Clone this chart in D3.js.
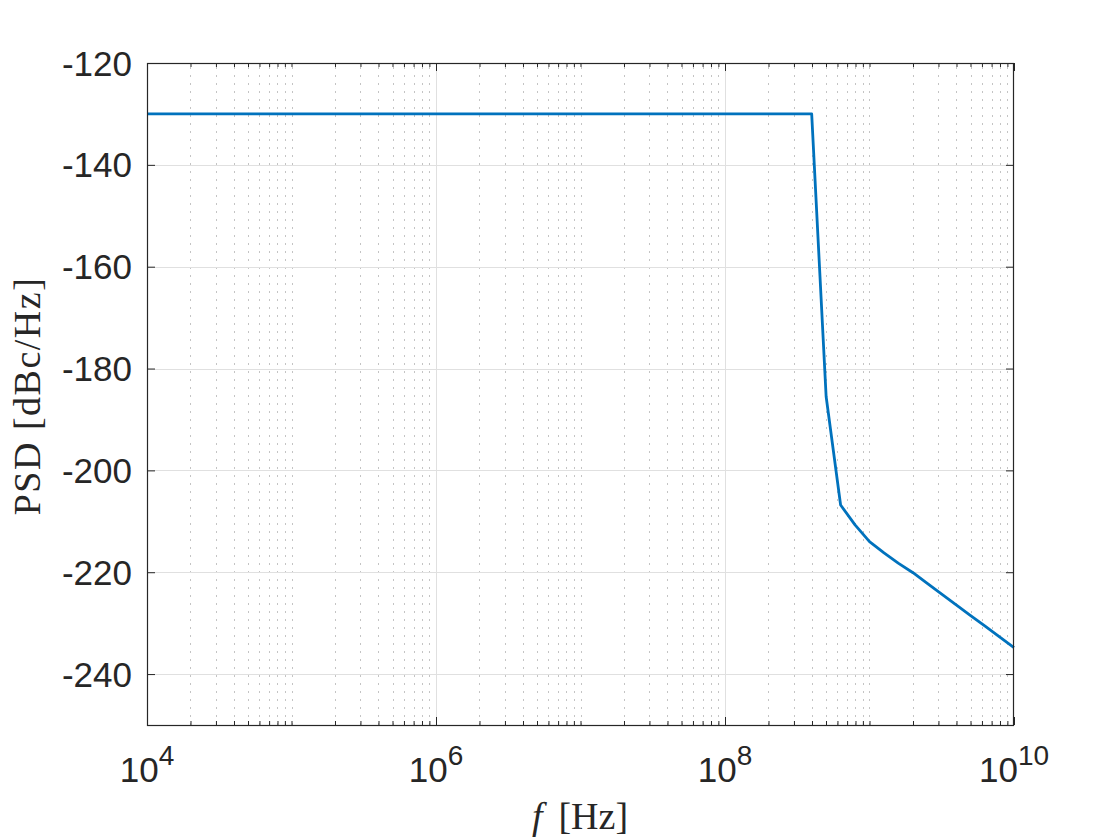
<!DOCTYPE html>
<html>
<head>
<meta charset="utf-8">
<script src="https://cdn.jsdelivr.net/npm/d3@7"></script>
<style>
  body { margin: 0; background: #fff; }
  svg { display: block; }
  .sans { font-family: "Liberation Sans", Arial, sans-serif; }
  .serif { font-family: "Liberation Serif", "DejaVu Serif", serif; }
</style>
</head>
<body>
<svg width="1120" height="840"></svg>
<script>
// frequency samples (Hz) and PSD (dBc/Hz)
var freqs = [1e4, 3.98e8, 5.01e8, 6.31e8, 7.94e8, 1e9, 1.26e9, 1.58e9, 2.0e9,
             2.51e9, 3.16e9, 3.98e9, 5.01e9, 6.31e9, 7.94e9, 1e10];
var psd = [-130, -130, -185.5, -206.8, -210.7, -214.0, -216.2, -218.2, -220.1,
           -222.2, -224.3, -226.4, -228.5, -230.6, -232.7, -234.8];

var xTickExps = [4, 6, 8, 10];
var yTicks = [-240, -220, -200, -180, -160, -140, -120];

var svg = d3.select("svg");
var pLeft = 147, pRight = 1014, pTop = 63, pBottom = 725;
var axisColor = "#262626";

var x = d3.scaleLog().domain([1e4, 1e10]).range([pLeft, pRight]);
var y = d3.scaleLinear().domain([-250, -120]).range([pBottom, pTop]);

svg.append("rect").attr("width", 1120).attr("height", 840).attr("fill", "#fff");

// all decade-spaced values for minor ticks / grid
var allX = [];
for (var e = 4; e < 10; e++) {
    for (var m = 1; m < 10; m++) allX.push(m * Math.pow(10, e));
}
allX.push(1e10);
var majorX = xTickExps.map(function (d) { return Math.pow(10, d); });
var minorX = allX.filter(function (v) {
    return !majorX.some(function (t) { return Math.abs(t - v) / t < 1e-9; });
});

var grid = svg.append("g");
grid.selectAll("line.minor")
    .data(minorX)
    .enter().append("line")
    .attr("class", "minor")
    .attr("x1", function (d) { return Math.round(x(d)) + 0.5; })
    .attr("x2", function (d) { return Math.round(x(d)) + 0.5; })
    .attr("y1", pTop + 4).attr("y2", pBottom)
    .attr("stroke", "#c4c4c4")
    .attr("stroke-width", 1)
    .attr("stroke-dasharray", "2,6");

grid.selectAll("line.majx")
    .data(majorX.slice(1, -1))
    .enter().append("line")
    .attr("x1", function (d) { return Math.round(x(d)) + 0.5; })
    .attr("x2", function (d) { return Math.round(x(d)) + 0.5; })
    .attr("y1", pTop).attr("y2", pBottom)
    .attr("stroke", "#e0e0e0");

grid.selectAll("line.majy")
    .data(yTicks.slice(0, -1))
    .enter().append("line")
    .attr("x1", pLeft).attr("x2", pRight)
    .attr("y1", function (d) { return Math.round(y(d)) + 0.5; })
    .attr("y2", function (d) { return Math.round(y(d)) + 0.5; })
    .attr("stroke", "#e0e0e0");

// data line
var line = d3.line()
    .x(function (d, i) { return x(freqs[i]); })
    .y(function (d) { return y(d); });

svg.append("path")
    .datum(psd)
    .attr("d", line)
    .attr("fill", "none")
    .attr("stroke", "#0072BD")
    .attr("stroke-width", 2.8)
    .attr("stroke-linejoin", "round");

// axes: ticks pointing inward on all four sides
function styleAxis(g) {
    g.select(".domain").remove();
    g.selectAll("line").attr("stroke", axisColor);
    g.selectAll("text").remove();
}

svg.append("g").attr("transform", "translate(0," + pBottom + ")")
    .call(d3.axisBottom(x).tickValues(majorX).tickSize(-8).tickFormat(""))
    .call(styleAxis);
svg.append("g").attr("transform", "translate(0," + pBottom + ")")
    .call(d3.axisBottom(x).tickValues(minorX).tickSize(-4).tickFormat(""))
    .call(styleAxis);
svg.append("g").attr("transform", "translate(0," + pTop + ")")
    .call(d3.axisTop(x).tickValues(majorX).tickSize(-8).tickFormat(""))
    .call(styleAxis);
svg.append("g").attr("transform", "translate(0," + pTop + ")")
    .call(d3.axisTop(x).tickValues(minorX).tickSize(-4).tickFormat(""))
    .call(styleAxis);
svg.append("g").attr("transform", "translate(" + pLeft + ",0)")
    .call(d3.axisLeft(y).tickValues(yTicks).tickSize(-8).tickFormat(""))
    .call(styleAxis);
svg.append("g").attr("transform", "translate(" + pRight + ",0)")
    .call(d3.axisRight(y).tickValues(yTicks).tickSize(-8).tickFormat(""))
    .call(styleAxis);

// box
svg.append("rect")
    .attr("x", pLeft + 0.5).attr("y", pTop + 0.5)
    .attr("width", pRight - pLeft - 1).attr("height", pBottom - pTop)
    .attr("fill", "none")
    .attr("stroke", axisColor)
    .attr("stroke-width", 1.2);

// tick labels
svg.append("g").selectAll("text")
    .data(yTicks)
    .enter().append("text")
    .attr("class", "sans")
    .attr("x", pLeft - 15)
    .attr("y", function (d) { return y(d); })
    .attr("dy", "0.36em")
    .attr("text-anchor", "end")
    .style("font-size", "35px")
    .attr("fill", axisColor)
    .text(function (d) { return d; });

var xl = svg.append("g").selectAll("text")
    .data(xTickExps)
    .enter().append("text")
    .attr("class", "sans")
    .attr("x", function (d) { return x(Math.pow(10, d)); })
    .attr("y", 782)
    .attr("text-anchor", "middle")
    .attr("fill", axisColor);
xl.append("tspan").style("font-size", "35px").text("10");
xl.append("tspan").style("font-size", "28px").attr("dy", -17).text(function (d) { return d; });

// axis titles (LaTeX-like serif)
var xt = svg.append("text")
    .attr("class", "serif")
    .attr("x", 580)
    .attr("y", 829)
    .attr("text-anchor", "middle")
    .style("font-size", "38px")
    .attr("fill", axisColor);
xt.append("tspan").style("font-style", "italic").text("f");
xt.append("tspan").attr("dx", 16).text("[Hz]");

svg.append("text")
    .attr("class", "serif")
    .attr("transform", "translate(40," + 396 + ") rotate(-90)")
    .attr("text-anchor", "middle")
    .style("font-size", "38px")
    .style("letter-spacing", "1.5px")
    .attr("fill", axisColor)
    .text("PSD [dBc/Hz]");
</script>
</body>
</html>
